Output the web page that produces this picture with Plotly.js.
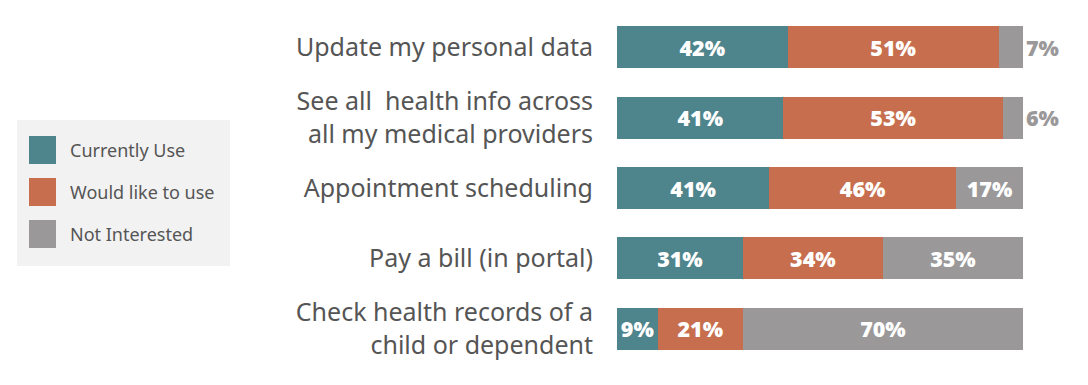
<!DOCTYPE html>
<html><head><meta charset="utf-8">
<script src="https://cdn.plot.ly/plotly-3.0.1.min.js"></script>
<style>html,body{margin:0;padding:0;background:#fff;}#chart{width:1088px;height:385px;}</style>
</head><body><div id="chart"></div>
<script>
const categories = ["Update my personal data", "See all  health info across<br>all my medical providers", "Appointment scheduling", "Pay a bill (in portal)", "Check health records of a<br>child or dependent"];
const seriesNames = ["Currently Use", "Would like to use", "Not Interested"];
// bar lengths as drawn in the reference
const currentlyUse = [42, 41, 37.5, 31, 10];
const wouldLikeToUse = [52, 54, 46, 34.5, 21];
const notInterested = [6, 5, 16.5, 34.5, 69];
// printed labels
const currentlyUseLabels = ["42%", "41%", "41%", "31%", "9%"];
const wouldLikeToUseLabels = ["51%", "53%", "46%", "34%", "21%"];
const notInterestedLabels = ["7%", "6%", "17%", "35%", "70%"];
const colors = ["#4e848c", "#c76e4e", "#9a9899"];

const W = 1088, H = 385, M = {l: 617, r: 65, t: 12, b: 21};
const pw = W - M.l - M.r, ph = H - M.t - M.b;
const px = x => (x - M.l) / pw;
const py = y => 1 - (y - M.t) / ph;

const valueSets = [currentlyUse, wouldLikeToUse, notInterested];
const labelSets = [currentlyUseLabels, wouldLikeToUseLabels, notInterestedLabels];
const labelFont = {family: "Noto Sans, sans-serif", size: 21.5, color: "#ffffff", weight: 900};
const traces = valueSets.map((vals, i) => ({
  type: "bar", orientation: "h", name: seriesNames[i],
  y: categories, x: vals,
  marker: {color: colors[i], line: {width: 0}},
  text: labelSets[i],
  textposition: i === 2 ? vals.map(v => v < 10 ? "outside" : "inside") : "inside",
  insidetextanchor: "middle",
  textangle: 0,
  constraintext: "none",
  insidetextfont: labelFont,
  outsidetextfont: Object.assign({}, labelFont, {color: "#9a9899"}),
  cliponaxis: false,
  hoverinfo: "skip",
  showlegend: false
}));

const shapes = [{type: "rect", xref: "paper", yref: "paper", x0: px(17), x1: px(230), y0: py(120), y1: py(266), fillcolor: "#f2f2f2", line: {width: 0}, layer: "below"}];
const annotations = [];
const rowY = [150, 192, 234];
seriesNames.forEach((n, i) => {
  shapes.push({type: "rect", xref: "paper", yref: "paper", x0: px(29), x1: px(56), y0: py(rowY[i] - 14), y1: py(rowY[i] + 14), fillcolor: colors[i], line: {width: 0}});
  annotations.push({xref: "paper", yref: "paper", x: px(68), y: py(rowY[i]), xanchor: "left", yanchor: "middle", text: n, showarrow: false, font: {family: "Noto Sans, sans-serif", size: 18, color: "#555555"}});
});

const layout = {
  width: W, height: H, margin: M,
  paper_bgcolor: "#ffffff", plot_bgcolor: "#ffffff",
  barmode: "stack", bargap: 0.404,
  showlegend: false,
  uniformtext: {mode: false},
  xaxis: {range: [0, 100], visible: false, fixedrange: true},
  yaxis: {autorange: "reversed", showgrid: false, zeroline: false, showline: false,
    ticks: "outside", ticklen: 18, tickcolor: "rgba(0,0,0,0)",
    tickfont: {family: "Noto Sans, sans-serif", size: 25, color: "#555555"}},
  shapes: shapes, annotations: annotations,
  font: {family: "Noto Sans, sans-serif"}
};
Plotly.newPlot("chart", traces, layout, {displayModeBar: false, staticPlot: true});
</script></body></html>
